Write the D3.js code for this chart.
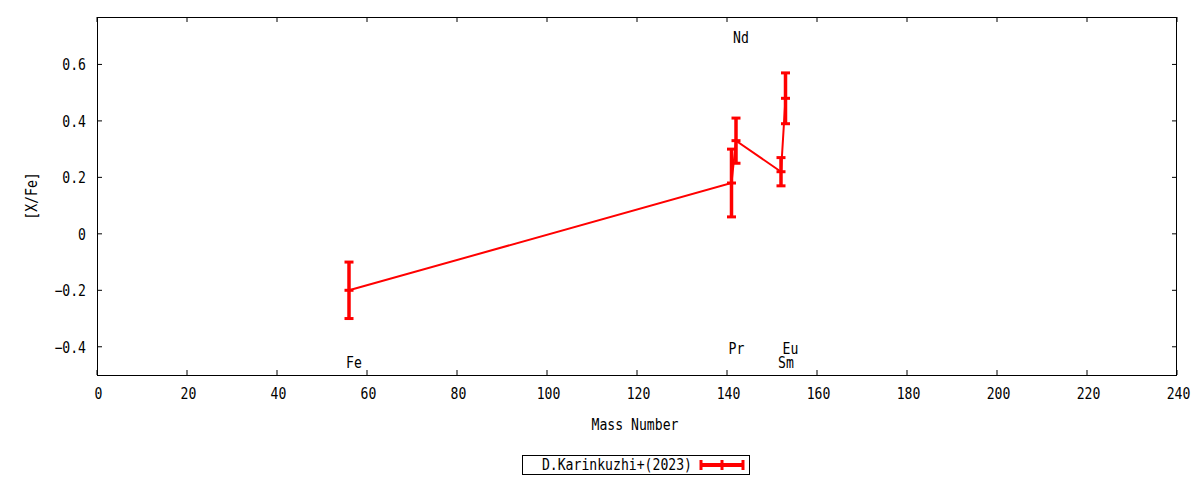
<!DOCTYPE html>
<html><head><meta charset="utf-8">
<script src="https://cdn.jsdelivr.net/npm/d3@7"></script>
<style>body{margin:0;background:#fff}text{font-family:"DejaVu Sans Mono",monospace;font-size:15.5px;fill:#000}</style>
</head><body><svg id="c" width="1200" height="480"></svg>
<script>
const elements = ["Fe","Pr","Nd","Sm","Eu"];
const massNumbers = [56,141,142,152,153];
const abundances = [-0.20,0.18,0.33,0.22,0.48];
const errors = [0.10,0.12,0.08,0.05,0.09];
const labelY = [-0.45,-0.40,0.70,-0.45,-0.40];
const xTicks = [0,20,40,60,80,100,120,140,160,180,200,220,240];
const yTicks = [-0.4,-0.2,0,0.2,0.4,0.6];
const seriesName = "D.Karinkuzhi+(2023)";

const svg = d3.select("#c");
const L=97,R=1177,T=17,B=375;
const x = d3.scaleLinear().domain([0,240]).range([L,R]);
const y = d3.scaleLinear().domain([-0.5,0.768]).range([B,T]);
const CW = 7.9;
function txt(g,s){return g.text(s).attr("textLength",s.length*CW).attr("lengthAdjust","spacingAndGlyphs");}

const red="#ff0000";
const tk=5;
xTicks.forEach(v=>{
  svg.append("line").attr("x1",x(v)).attr("x2",x(v)).attr("y1",B).attr("y2",B-tk).attr("stroke","#000");
  svg.append("line").attr("x1",x(v)).attr("x2",x(v)).attr("y1",T).attr("y2",T+tk).attr("stroke","#000");
  txt(svg.append("text").attr("x",x(v)+1.5).attr("y",394).attr("text-anchor","middle").attr("dominant-baseline","central"),String(v));
});
yTicks.forEach(v=>{
  svg.append("line").attr("x1",L).attr("x2",L+tk).attr("y1",y(v)).attr("y2",y(v)).attr("stroke","#000");
  svg.append("line").attr("x1",R).attr("x2",R-tk).attr("y1",y(v)).attr("y2",y(v)).attr("stroke","#000");
  txt(svg.append("text").attr("x",86).attr("y",y(v)+1).attr("text-anchor","end").attr("dominant-baseline","central"),d3.format("")(Math.round(v*10)/10));
});
svg.append("rect").attr("x",L+0.5).attr("y",T+0.5).attr("width",R-L-1).attr("height",B-T).attr("fill","none").attr("stroke","#000");

txt(svg.append("text").attr("x",635).attr("y",425).attr("text-anchor","middle").attr("dominant-baseline","central"),"Mass Number");
txt(svg.append("text").attr("transform","translate(32,196) rotate(-90)").attr("text-anchor","middle").attr("dominant-baseline","central"),"[X/Fe]");

const pts = massNumbers.map((m,i)=>({m,v:abundances[i],e:errors[i],el:elements[i],ly:labelY[i]}));
svg.append("path").datum(pts).attr("fill","none").attr("stroke",red).attr("stroke-width",2)
  .attr("d",d3.line().x(d=>x(d.m)).y(d=>y(d.v)));
const cw=4.5;
const g = svg.selectAll("g.pt").data(pts).join("g");
g.append("line").attr("x1",d=>x(d.m)).attr("x2",d=>x(d.m)).attr("y1",d=>y(d.v-d.e)).attr("y2",d=>y(d.v+d.e)).attr("stroke",red).attr("stroke-width",3.5);
g.append("line").attr("x1",d=>x(d.m)-cw).attr("x2",d=>x(d.m)+cw).attr("y1",d=>y(d.v-d.e)).attr("y2",d=>y(d.v-d.e)).attr("stroke",red).attr("stroke-width",3);
g.append("line").attr("x1",d=>x(d.m)-cw).attr("x2",d=>x(d.m)+cw).attr("y1",d=>y(d.v+d.e)).attr("y2",d=>y(d.v+d.e)).attr("stroke",red).attr("stroke-width",3);
g.append("line").attr("x1",d=>x(d.m)-cw).attr("x2",d=>x(d.m)+cw).attr("y1",d=>y(d.v)).attr("y2",d=>y(d.v)).attr("stroke",red).attr("stroke-width",3);
g.each(function(d){ txt(d3.select(this).append("text").attr("x",x(d.m)+5).attr("y",y(d.ly)+2).attr("text-anchor","middle").attr("dominant-baseline","central"),d.el); });

svg.append("rect").attr("x",522.5).attr("y",455.5).attr("width",227).attr("height",19).attr("fill","none").attr("stroke","#000");
txt(svg.append("text").attr("x",692).attr("y",465).attr("text-anchor","end").attr("dominant-baseline","central"),seriesName);
svg.append("line").attr("x1",701).attr("x2",743).attr("y1",465).attr("y2",465).attr("stroke",red).attr("stroke-width",4);
[701,722,743].forEach(px=>svg.append("line").attr("x1",px).attr("x2",px).attr("y1",460).attr("y2",470).attr("stroke",red).attr("stroke-width",3));
</script></body></html>
